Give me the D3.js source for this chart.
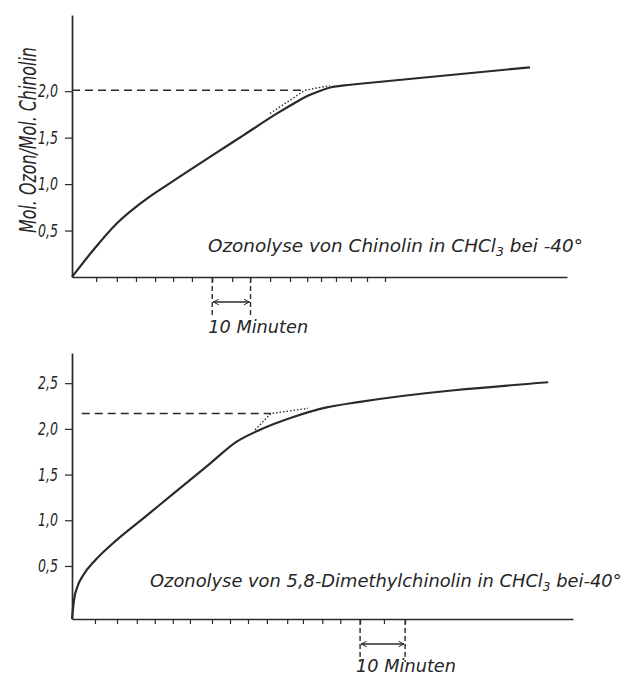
<!DOCTYPE html>
<html><head><meta charset="utf-8">
<script src="https://cdn.jsdelivr.net/npm/d3@7"></script>
<style>
html,body{margin:0;padding:0;background:#fff;}
svg{display:block;}
text{font-family:"DejaVu Sans Condensed","Liberation Sans Narrow","DejaVu Sans",sans-serif;font-style:italic;fill:#262626;}
</style></head><body>
<svg id="c" width="643" height="677"></svg>
<script>
// ---------- DATA ----------
// Top panel: Chinolin (minutes, mol ozone / mol substrate)
const topMinutes = [0, 5.56, 11.67, 18.61, 27.33, 36.02, 44.71, 53.43, 58, 61.26, 64.5, 67.34, 71, 75.17, 119.55];
const topValues  = [0, 0.29, 0.575, 0.815, 1.058, 1.293, 1.525, 1.758, 1.87, 1.945, 2.0, 2.04, 2.062, 2.08, 2.257];
const topTicksX  = [6.3, 11.7, 16.7, 21.7, 26.4, 31.3, 36.6, 41.8, 46.5, 51.7, 56.9, 61.4, 65, 68.9, 72.8, 77, 81.7];
const topTicksY  = [0.5, 1.0, 1.5, 2.0];
const topTickLabels = ["0,5", "1,0", "1,5", "2,0"];
const topPlateau = 2.01;           // dashed reference level
const topDashMinutes = [0, 60.8];
const topDotMinutes = [51.7, 60.8, 67.3];
const topDotValues  = [1.76, 2.01, 2.06];
const topScaleMark = [36.6, 46.6]; // 10 Minuten
const topTitle = ["Ozonolyse von Chinolin in CHCl", "3", " bei -40°"];

// Bottom panel: 5,8-Dimethylchinolin
const botMinutes = [0, 0.44, 1.18, 2.51, 5.11, 9.17, 15.83, 23.26, 30.66, 36.59, 41.77, 49.17, 56.59, 63.98, 105.8];
const botValues  = [-0.08, 0.128, 0.27, 0.401, 0.56, 0.752, 1.021, 1.321, 1.62, 1.86, 1.99, 2.13, 2.235, 2.295, 2.51];
const botTicksX  = [5.1, 10, 14.4, 18.4, 22.4, 26.2, 31.1, 35.1, 39.1, 43.3, 47.8, 51.3, 55.6, 59.6, 64, 69.3, 74];
const botTicksY  = [0.5, 1.0, 1.5, 2.0, 2.5];
const botTickLabels = ["0,5", "1,0", "1,5", "2,0", "2,5"];
const botPlateau = 2.168;
const botDashMinutes = [2.16, 44.2];
const botDotMinutes = [40.66, 44.21, 52.43];
const botDotValues  = [1.99, 2.168, 2.225];
const botScaleMark = [64, 74];
const botTitle = ["Ozonolyse von 5,8-Dimethylchinolin in CHCl", "3", " bei-40°"];

const yAxisLabel = "Mol. Ozon/Mol. Chinolin";
const minuteLabel = "10 Minuten";

// ---------- DRAWING ----------
const ink = "#2a2a2a";
const svg = d3.select("#c");
const defs = svg.append("defs");
defs.append("marker").attr("id","arr").attr("viewBox","0 0 10 10")
  .attr("refX",9).attr("refY",5).attr("markerWidth",7).attr("markerHeight",7)
  .attr("markerUnits","userSpaceOnUse").attr("orient","auto-start-reverse")
  .append("path").attr("d","M1,1 L9,5 L1,9").attr("fill","none").attr("stroke",ink).attr("stroke-width",1.4);

// text fitted horizontally to a target width
function fitText(parent, parts, x, y, width, size, anchor, rot) {
  const g = parent.append("g");
  const t = g.append("text").attr("font-size", size).attr("text-anchor", anchor || "start");
  if (typeof parts === "string") t.text(parts);
  else {
    t.append("tspan").text(parts[0]);
    t.append("tspan").text(parts[1]).attr("font-size", size*0.68).attr("dy", 4);
    t.append("tspan").text(parts[2]).attr("dy", -4);
  }
  const w = t.node().getBBox().width;
  const k = width / w;
  g.attr("transform", `translate(${x},${y})` + (rot ? ` rotate(${rot})` : "") + ` scale(${k},1)`);
  return g;
}

function panel(c) {
  const x = d3.scaleLinear().domain(c.xDomain).range(c.xRange);
  const y = d3.scaleLinear().domain(c.yDomain).range(c.yRange);
  const g = svg.append("g");
  const x0 = c.xRange[0], y0 = c.yRange[0];

  const xa = g.append("g").attr("transform", `translate(0,${y0})`)
    .call(d3.axisBottom(x).tickValues(c.xTicks).tickSize(5).tickSizeOuter(0).tickFormat(""));
  const ya = g.append("g").attr("transform", `translate(${x0},0)`)
    .call(d3.axisLeft(y).tickValues(c.yTicks).tickSize(7).tickSizeOuter(0).tickFormat(""));
  [xa, ya].forEach(a => {
    a.select(".domain").attr("stroke", ink).attr("stroke-width", 1.7);
    a.selectAll(".tick line").attr("stroke", ink).attr("stroke-width", 1.2);
  });

  c.yTicks.forEach((v, i) => fitText(g, c.yTickLabels[i], x0 - 14, y(v) + 6, 20, 17, "end"));

  // dashed plateau line
  g.append("line").attr("x1", x(c.dash[0])).attr("x2", x(c.dash[1]))
    .attr("y1", y(c.plateau)).attr("y2", y(c.plateau))
    .attr("stroke", ink).attr("stroke-width", 1.4).attr("stroke-dasharray", "8,5");
  // dotted extrapolation
  const dots = c.dotM.map((m, i) => [m, c.dotV[i]]);
  g.append("path").attr("d", d3.line().x(d => x(d[0])).y(d => y(d[1]))(dots))
    .attr("fill", "none").attr("stroke", ink).attr("stroke-width", 1.4).attr("stroke-dasharray", "1.5,2");
  // curve
  const pts = c.m.map((m, i) => [m, c.v[i]]);
  g.append("path").attr("d", d3.line().x(d => x(d[0])).y(d => y(d[1])).curve(d3.curveMonotoneX)(pts))
    .attr("fill", "none").attr("stroke", ink).attr("stroke-width", 2.2).attr("stroke-linejoin", "round");

  // 10 minute scale marker
  c.mark.forEach(m => g.append("line").attr("x1", x(m)).attr("x2", x(m))
    .attr("y1", y0 + 1).attr("y2", y0 + c.markLen)
    .attr("stroke", ink).attr("stroke-width", 1.4).attr("stroke-dasharray", "5,3"));
  g.append("line").attr("x1", x(c.mark[0]) + 1).attr("x2", x(c.mark[1]) - 1)
    .attr("y1", y0 + 25).attr("y2", y0 + 25)
    .attr("stroke", ink).attr("stroke-width", 1.4)
    .attr("marker-start", "url(#arr)").attr("marker-end", "url(#arr)");
  fitText(g, minuteLabel, x(c.mark[0]) - 4, y0 + c.labelDy, 100, 17, "start");

  // title
  fitText(g, c.title, c.titleX, c.titleY, c.titleW, 18, "start");
}

panel({
  xDomain: [0, 129.2], xRange: [72, 567],
  yDomain: [0, 2.82], yRange: [277, 15],
  xTicks: topTicksX, yTicks: topTicksY, yTickLabels: topTickLabels,
  m: topMinutes, v: topValues,
  plateau: topPlateau, dash: topDashMinutes, dotM: topDotMinutes, dotV: topDotValues,
  mark: topScaleMark, markLen: 38, labelDy: 56,
  title: topTitle, titleX: 208, titleY: 252, titleW: 375
});
panel({
  xDomain: [0, 111.3], xRange: [72, 573],
  yDomain: [-0.08, 2.83], yRange: [619, 353],
  xTicks: botTicksX, yTicks: botTicksY, yTickLabels: botTickLabels,
  m: botMinutes, v: botValues,
  plateau: botPlateau, dash: botDashMinutes, dotM: botDotMinutes, dotV: botDotValues,
  mark: botScaleMark, markLen: 43, labelDy: 53,
  title: botTitle, titleX: 150, titleY: 587, titleW: 472
});

// y axis label (top panel)
fitText(svg, yAxisLabel, 36, 140, 186, 23, "middle", -90);
</script>
</body></html>
